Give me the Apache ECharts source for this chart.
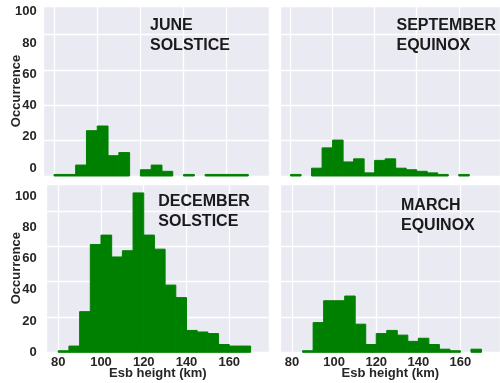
<!DOCTYPE html>
<html>
<head>
<meta charset="utf-8">
<script src="https://cdn.jsdelivr.net/npm/echarts@6/dist/echarts.min.js"></script>
<style>
  html, body { margin: 0; padding: 0; background: #fff; }
  #chart { width: 500px; height: 383px; }
</style>
</head>
<body>
<div id="chart"></div>
<script>
// Histogram bins (km): left edges, all 5 km wide
var binStart = [80, 85, 90, 95, 100, 105, 110, 115, 120, 125, 130, 135, 140, 145, 150, 155, 160, 165];
var binWidth = 5;

// Occurrence counts per bin for each season
var juneSolstice     = [1, 1, 7, 29, 32, 13, 15, 0, 4, 7, 3, 0, 1, 0, 1, 1, 1, 1];
var septemberEquinox = [1, 0, 5, 18, 23, 9, 11, 2, 10, 11, 5, 4, 3, 2, 1, 0, 1, 0];
var decemberSolstice = [1, 4, 26, 69, 75, 61, 65, 102, 75, 66, 43, 35, 14, 13, 12, 5, 4, 4];
var marchEquinox     = [0, 1, 19, 33, 33, 36, 18, 5, 12, 14, 11, 7, 9, 5, 2, 1, 0, 2];

var panelTitles = ['JUNE\nSOLSTICE', 'SEPTEMBER\nEQUINOX', 'DECEMBER\nSOLSTICE', 'MARCH\nEQUINOX'];
var xName = 'Esb height (km)';
var yName = 'Occurrence';

var FONT = '"Liberation Sans", Arial, sans-serif';
var TEXT = '#262626';
var BAR = '#008000';
var PANEL_BG = '#EAEAF2';

function histData(counts) {
  return binStart.map(function (s, i) { return [s, s + binWidth, counts[i]]; });
}

function renderBin(params, api) {
  if (api.value(2) <= 0) return null;
  var topLeft = api.coord([api.value(0), api.value(2)]);
  var bottomRight = api.coord([api.value(1), 0]);
  return {
    type: 'rect',
    shape: {
      x: topLeft[0],
      y: topLeft[1],
      width: bottomRight[0] - topLeft[0],
      height: bottomRight[1] - topLeft[1]
    },
    style: { fill: BAR, stroke: BAR, lineWidth: 1 }
  };
}

var grids = [
  { left: 43.3, top: 6, width: 225.7, height: 170 },
  { left: 280, top: 6, width: 223.6, height: 170 },
  { left: 46.7, top: 184, width: 222.3, height: 168.3 },
  { left: 280.7, top: 184, width: 223, height: 168.3 }
].map(function (g) {
  return Object.assign({ show: true, backgroundColor: PANEL_BG, borderWidth: 0, containLabel: false }, g);
});

function xAxisFor(gridIndex, min, max, withLabels) {
  return {
    type: 'value', gridIndex: gridIndex, min: min, max: max, position: 'bottom',
    minInterval: 20, maxInterval: 20,
    axisLine: { show: false }, axisTick: { show: false },
    splitLine: { show: true, lineStyle: { color: '#ffffff', width: 1.3 } },
    axisLabel: {
      show: withLabels, showMinLabel: false, showMaxLabel: false, margin: 4,
      color: TEXT, fontFamily: FONT, fontWeight: 'bold', fontSize: 13
    },
    name: withLabels ? xName : '',
    nameLocation: 'middle', nameGap: 15, nameMoveOverlap: false,
    nameTextStyle: { color: TEXT, fontFamily: FONT, fontWeight: 'bold', fontSize: 13 }
  };
}

// hidden value axis that carries the bars
function dataAxis(gridIndex, max) {
  return {
    type: 'value', gridIndex: gridIndex, min: 0, max: max, position: 'left',
    axisLine: { show: false }, axisTick: { show: false },
    axisLabel: { show: false }, splitLine: { show: false }
  };
}

// axis that only draws the horizontal white grid lines
function gridLineAxis(gridIndex, max) {
  return {
    type: 'value', gridIndex: gridIndex, min: 0, max: max, position: 'left',
    minInterval: 20, maxInterval: 20,
    axisLine: { show: false }, axisTick: { show: false },
    axisLabel: { show: false },
    splitLine: { show: true, lineStyle: { color: '#ffffff', width: 1.3 } }
  };
}

// axis that only draws the occurrence tick labels and the axis name
function labelAxis(gridIndex, min, max, margin, nameGap) {
  return {
    type: 'value', gridIndex: gridIndex, min: min, max: max, position: 'left',
    minInterval: 20, maxInterval: 20,
    axisLine: { show: false }, axisTick: { show: false },
    splitLine: { show: false },
    axisLabel: {
      show: true, showMinLabel: min === 0, showMaxLabel: false, margin: margin,
      color: TEXT, fontFamily: FONT, fontWeight: 'bold', fontSize: 13
    },
    name: yName, nameLocation: 'middle', nameGap: nameGap, nameMoveOverlap: false,
    nameTextStyle: { color: TEXT, fontFamily: FONT, fontWeight: 'bold', fontSize: 13 }
  };
}

var yAxes = [
  dataAxis(0, 108.8),                   // 0: June bars
  labelAxis(0, -5.1, 103.7, 6.6, 20.6), // 1: June labels
  gridLineAxis(0, 96.0),                // 2: June grid
  dataAxis(1, 108.8),                   // 3: September bars
  gridLineAxis(1, 96.0),                // 4: September grid
  labelAxis(2, 0, 107.7, 10, 24),       // 5: December bars + labels
  gridLineAxis(2, 95.4),                // 6: December grid
  dataAxis(3, 107.7),                   // 7: March bars
  gridLineAxis(3, 95.4)                 // 8: March grid
];

function histSeries(name, xIndex, yIndex, counts) {
  return {
    name: name, type: 'custom', xAxisIndex: xIndex, yAxisIndex: yIndex,
    renderItem: renderBin, encode: { x: [0, 1], y: 2 },
    data: histData(counts), z: 5, silent: true
  };
}

var titleStyle = { color: '#1a1a1a', fontFamily: FONT, fontWeight: 'bold', fontSize: 16, lineHeight: 19.3 };
var titlePos = [[150, 16.3], [396.5, 16.3], [158.3, 192.3], [401, 196.3]];

var option = {
  animation: false,
  backgroundColor: '#ffffff',
  title: panelTitles.map(function (t, i) {
    return { text: t, left: titlePos[i][0], top: titlePos[i][1], padding: 0, textStyle: titleStyle };
  }),
  grid: grids,
  xAxis: [
    xAxisFor(0, 75, 179.6, false),
    xAxisFor(1, 75, 179.6, false),
    xAxisFor(2, 74.6, 178.6, true),
    xAxisFor(3, 74.6, 178.8, true)
  ],
  yAxis: yAxes,
  series: [
    histSeries('June solstice', 0, 0, juneSolstice),
    histSeries('September equinox', 1, 3, septemberEquinox),
    histSeries('December solstice', 2, 5, decemberSolstice),
    histSeries('March equinox', 3, 7, marchEquinox)
  ]
};

var chart = echarts.init(document.getElementById('chart'), null, { renderer: 'canvas' });
chart.setOption(option);
</script>
</body>
</html>
